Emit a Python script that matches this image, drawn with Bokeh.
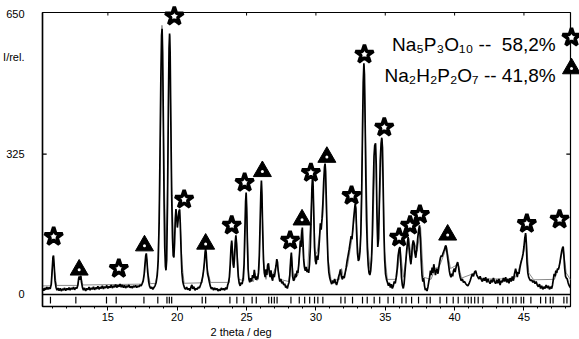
from bokeh.plotting import figure
from bokeh.models import Range1d, FixedTicker, Span, Label, Title
from bokeh.embed import file_html
from bokeh.resources import INLINE

# ---------------- data ----------------
obs_2theta = [10.30, 10.38, 10.45, 10.52, 10.60, 10.68, 10.76, 10.84, 10.92, 10.98, 11.04, 11.08, 11.13, 11.19, 11.26,
              11.33, 11.40, 11.48, 11.56, 11.64, 11.72, 11.80, 11.88, 11.96, 12.04, 12.12, 12.20, 12.28, 12.36, 12.44,
              12.52, 12.60, 12.68, 12.76, 12.84, 12.89, 12.93, 12.97, 13.01, 13.05, 13.10, 13.17, 13.24, 13.32, 13.40,
              13.48, 13.56, 13.64, 13.72, 13.80, 13.88, 13.96, 14.04, 14.12, 14.20, 14.28, 14.36, 14.44, 14.52, 14.60,
              14.68, 14.76, 14.84, 14.92, 15.00, 15.08, 15.16, 15.24, 15.32, 15.40, 15.48, 15.56, 15.64, 15.72, 15.80,
              15.88, 15.96, 16.04, 16.12, 16.20, 16.28, 16.36, 16.44, 16.52, 16.60, 16.68, 16.76, 16.84, 16.92, 17.00,
              17.08, 17.16, 17.24, 17.32, 17.40, 17.48, 17.55, 17.62, 17.68, 17.73, 17.77, 17.81, 17.87, 17.94, 18.00,
              18.08, 18.16, 18.24, 18.32, 18.40, 18.48, 18.56, 18.63, 18.70, 18.76, 18.82, 18.87, 18.91, 18.95, 19.00,
              19.05, 19.10, 19.15, 19.19, 19.24, 19.30, 19.36, 19.41, 19.45, 19.49, 19.54, 19.60, 19.66, 19.71, 19.76,
              19.81, 19.86, 19.91, 19.96, 20.01, 20.06, 20.12, 20.17, 20.22, 20.28, 20.34, 20.40, 20.46, 20.53, 20.60,
              20.68, 20.76, 20.84, 20.92, 21.00, 21.06, 21.12, 21.20, 21.28, 21.36, 21.44, 21.52, 21.60, 21.68, 21.76,
              21.84, 21.90, 21.96, 22.01, 22.05, 22.09, 22.14, 22.19, 22.25, 22.31, 22.38, 22.46, 22.54, 22.62, 22.70,
              22.78, 22.86, 22.94, 23.02, 23.10, 23.18, 23.26, 23.34, 23.42, 23.50, 23.58, 23.64, 23.70, 23.76, 23.82,
              23.88, 23.93, 23.98, 24.03, 24.08, 24.13, 24.18, 24.23, 24.28, 24.34, 24.40, 24.47, 24.54, 24.61, 24.68,
              24.75, 24.82, 24.88, 24.93, 24.97, 25.01, 25.06, 25.11, 25.17, 25.23, 25.30, 25.36, 25.43, 25.50, 25.56,
              25.62, 25.68, 25.74, 25.80, 25.86, 25.92, 25.98, 26.03, 26.07, 26.11, 26.16, 26.22, 26.28, 26.34, 26.40,
              26.46, 26.52, 26.58, 26.64, 26.70, 26.76, 26.82, 26.88, 26.94, 27.00, 27.06, 27.12, 27.18, 27.23, 27.28,
              27.34, 27.40, 27.47, 27.54, 27.61, 27.68, 27.75, 27.82, 27.88, 27.94, 28.00, 28.06, 28.12, 28.18, 28.23,
              28.27, 28.32, 28.38, 28.45, 28.52, 28.58, 28.64, 28.70, 28.76, 28.82, 28.88, 28.93, 28.98, 29.02, 29.07,
              29.12, 29.18, 29.24, 29.30, 29.36, 29.42, 29.48, 29.54, 29.60, 29.66, 29.71, 29.76, 29.80, 29.85, 29.90,
              29.96, 30.02, 30.08, 30.14, 30.20, 30.26, 30.32, 30.38, 30.44, 30.50, 30.56, 30.62, 30.66, 30.70, 30.75,
              30.81, 30.87, 30.93, 31.00, 31.07, 31.14, 31.21, 31.28, 31.35, 31.42, 31.49, 31.56, 31.63, 31.70, 31.77,
              31.83, 31.90, 31.97, 32.04, 32.11, 32.18, 32.25, 32.32, 32.40, 32.47, 32.54, 32.60, 32.66, 32.72, 32.78,
              32.83, 32.88, 32.94, 33.00, 33.06, 33.12, 33.18, 33.24, 33.30, 33.36, 33.41, 33.46, 33.50, 33.55, 33.60,
              33.65, 33.71, 33.77, 33.83, 33.89, 33.95, 34.01, 34.07, 34.13, 34.19, 34.24, 34.30, 34.35, 34.40, 34.46,
              34.52, 34.58, 34.64, 34.70, 34.75, 34.80, 34.85, 34.90, 34.96, 35.02, 35.09, 35.16, 35.23, 35.30, 35.37,
              35.44, 35.51, 35.58, 35.65, 35.72, 35.79, 35.86, 35.93, 36.00, 36.06, 36.11, 36.17, 36.23, 36.30, 36.36,
              36.42, 36.48, 36.54, 36.60, 36.65, 36.70, 36.75, 36.80, 36.85, 36.90, 36.96, 37.02, 37.08, 37.14, 37.20,
              37.27, 37.34, 37.41, 37.47, 37.53, 37.59, 37.65, 37.71, 37.77, 37.83, 37.89, 37.95, 38.01, 38.08, 38.14,
              38.20, 38.26, 38.32, 38.38, 38.44, 38.50, 38.56, 38.62, 38.68, 38.74, 38.80, 38.86, 38.92, 38.98, 39.04,
              39.10, 39.16, 39.22, 39.28, 39.33, 39.38, 39.44, 39.50, 39.56, 39.62, 39.68, 39.74, 39.80, 39.86, 39.92,
              39.98, 40.04, 40.10, 40.16, 40.22, 40.28, 40.34, 40.40, 40.48, 40.56, 40.64, 40.72, 40.80, 40.88, 40.96,
              41.04, 41.12, 41.20, 41.28, 41.36, 41.44, 41.52, 41.60, 41.68, 41.76, 41.84, 41.92, 42.00, 42.08, 42.16,
              42.24, 42.32, 42.40, 42.48, 42.56, 42.64, 42.72, 42.80, 42.88, 42.96, 43.04, 43.12, 43.20, 43.28, 43.36,
              43.44, 43.52, 43.60, 43.68, 43.76, 43.84, 43.92, 44.00, 44.08, 44.16, 44.24, 44.32, 44.40, 44.46, 44.52,
              44.58, 44.64, 44.70, 44.76, 44.82, 44.88, 44.94, 45.00, 45.06, 45.12, 45.17, 45.22, 45.28, 45.34, 45.40,
              45.48, 45.56, 45.64, 45.72, 45.80, 45.88, 45.96, 46.04, 46.12, 46.20, 46.28, 46.36, 46.44, 46.52, 46.60,
              46.68, 46.76, 46.84, 46.92, 47.00, 47.06, 47.12, 47.18, 47.24, 47.30, 47.36, 47.42, 47.48, 47.54, 47.60,
              47.66, 47.72, 47.78, 47.83, 47.88, 47.94, 48.00, 48.06, 48.12, 48.18, 48.24, 48.30, 48.36]
obs_int = [14, 9, 15, 11, 17, 12, 16, 13, 24, 55, 86, 90, 66, 32, 17,
           10, 15, 9, 14, 8, 13, 10, 15, 9, 14, 11, 16, 10, 15, 12,
           17, 11, 16, 14, 22, 36, 42, 34, 40, 43, 28, 16, 10, 15, 8,
           14, 11, 17, 10, 15, 12, 18, 11, 16, 13, 19, 12, 17, 14, 20,
           13, 18, 15, 21, 14, 19, 16, 22, 15, 20, 17, 23, 16, 21, 18,
           24, 17, 22, 16, 21, 15, 20, 17, 22, 16, 19, 15, 20, 17, 21,
           16, 20, 18, 22, 20, 26, 32, 48, 72, 90, 95, 82, 52, 30, 20,
           14, 17, 12, 16, 20, 28, 45, 80, 170, 330, 500, 600, 615, 560, 400,
           220, 110, 65, 56, 80, 210, 430, 570, 604, 560, 400, 230, 130, 90, 86,
           120, 175, 198, 180, 155, 170, 192, 197, 165, 100, 50, 30, 22, 15, 12,
           17, 11, 14, 9, 18, 22, 13, 18, 10, 14, 12, 17, 15, 22, 30,
           42, 55, 75, 98, 106, 96, 66, 48, 40, 30, 20, 13, 16, 10, 15,
           11, 14, 8, 12, 9, 15, 11, 14, 10, 16, 12, 22, 28, 40, 70,
           110, 125, 100, 70, 62, 85, 120, 137, 118, 75, 42, 26, 20, 28, 24,
           36, 70, 150, 215, 236, 200, 120, 60, 35, 28, 38, 30, 45, 38, 57,
           40, 34, 42, 35, 50, 90, 170, 235, 264, 230, 150, 80, 50, 40, 58,
           45, 68, 72, 50, 40, 56, 38, 32, 48, 40, 52, 66, 82, 75, 55,
           40, 30, 36, 26, 30, 22, 25, 16, 20, 14, 22, 28, 45, 80, 97,
           75, 42, 32, 35, 48, 40, 55, 50, 68, 95, 125, 110, 140, 155, 120,
           80, 62, 55, 64, 52, 58, 50, 70, 110, 180, 245, 275, 250, 180, 110,
           78, 70, 90, 80, 100, 130, 165, 150, 175, 210, 260, 295, 303, 285, 220,
           140, 80, 52, 38, 30, 24, 32, 26, 36, 28, 22, 30, 40, 48, 58,
           45, 35, 42, 38, 50, 62, 78, 90, 105, 120, 135, 128, 150, 175, 195,
           210, 200, 140, 95, 78, 82, 100, 140, 230, 380, 490, 535, 510, 400, 270,
           170, 105, 68, 50, 45, 55, 80, 140, 240, 320, 345, 350, 300, 190, 110,
           130, 220, 310, 350, 363, 340, 250, 150, 80, 48, 35, 28, 20, 27, 16,
           24, 14, 20, 30, 26, 40, 60, 90, 105, 110, 80, 40, 22, 14, 25,
           50, 75, 100, 120, 133, 115, 95, 80, 70, 90, 115, 125, 118, 95, 85,
           105, 130, 150, 160, 130, 80, 45, 30, 38, 20, 10, 14, 8, 18, 30,
           40, 55, 45, 62, 50, 70, 58, 45, 55, 60, 48, 62, 75, 85, 90,
           88, 95, 100, 105, 112, 113, 100, 85, 70, 55, 45, 40, 48, 42, 55,
           60, 52, 62, 70, 75, 65, 50, 40, 32, 36, 28, 30, 25, 22, 20,
           25, 32, 40, 48, 42, 52, 55, 45, 40, 36, 42, 35, 30, 38, 32,
           40, 28, 36, 30, 25, 34, 28, 38, 30, 25, 34, 26, 36, 22, 32,
           28, 38, 30, 40, 28, 36, 26, 38, 30, 42, 32, 48, 60, 50, 40,
           52, 48, 60, 70, 78, 85, 95, 110, 130, 142, 120, 75, 50, 40, 36,
           32, 34, 28, 32, 25, 30, 22, 18, 24, 14, 20, 12, 18, 14, 22,
           15, 20, 12, 18, 14, 22, 35, 48, 42, 55, 50, 60, 58, 65, 75,
           88, 100, 108, 111, 90, 60, 42, 38, 36, 28, 22, 18, 16]

calc_2theta = [10.30, 10.90, 11.00, 11.07, 11.15, 11.30, 12.80, 12.95, 13.05, 13.20, 17.50, 17.65, 17.76, 17.90,
               18.05, 18.45, 18.60, 18.75, 18.90, 19.05, 19.18, 19.30, 19.46, 19.60, 19.75, 19.92, 20.05, 20.18,
               20.35, 20.50, 21.80, 21.95, 22.06, 22.20, 22.40, 23.75, 23.95, 24.08, 24.26, 24.45, 24.80, 24.98,
               25.15, 25.50, 25.60, 25.75, 25.90, 26.08, 26.25, 26.40, 26.60, 26.80, 27.20, 27.40, 28.05, 28.23,
               28.40, 28.70, 28.95, 29.15, 29.40, 29.78, 29.95, 30.10, 30.35, 30.50, 30.66, 30.85, 31.10, 31.70,
               31.85, 32.00, 32.30, 32.60, 32.86, 33.05, 33.20, 33.48, 33.62, 33.75, 33.90, 34.05, 34.30, 34.45,
               34.55, 34.78, 34.95, 35.15, 35.80, 36.09, 36.30, 36.70, 36.90, 37.10, 37.30, 37.55, 37.75, 38.30,
               38.60, 38.90, 39.20, 39.43, 39.70, 40.26, 40.50, 41.50, 41.80, 44.30, 44.60, 45.00, 45.14, 45.35,
               45.70, 47.20, 47.50, 47.83, 48.05, 48.36]
calc_int = [20, 20, 60, 88, 55, 21, 21, 40, 42, 22, 24, 50, 92, 50,
            25, 26, 60, 250, 623, 300, 90, 250, 600, 250, 110, 190, 170, 195,
            70, 26, 27, 70, 100, 55, 28, 28, 120, 70, 130, 35, 32, 230,
            40, 30, 50, 32, 60, 260, 60, 35, 65, 40, 70, 35, 30, 95,
            35, 45, 150, 65, 55, 270, 90, 100, 160, 180, 300, 90, 32, 35,
            60, 38, 70, 130, 205, 90, 110, 530, 300, 110, 60, 100, 345, 120,
            180, 360, 100, 35, 35, 105, 40, 130, 80, 120, 100, 155, 40, 35,
            60, 65, 90, 110, 60, 70, 38, 50, 36, 36, 55, 100, 138, 50,
            34, 35, 60, 108, 50, 34]

bragg_2theta = [10.86, 12.69, 14.90, 15.60, 17.60, 18.60, 19.26, 19.43, 19.60, 21.80, 22.05, 23.80, 24.30, 24.80,
                25.40, 25.70, 26.60, 26.80, 27.00, 27.20, 28.20, 28.80, 29.19, 29.55, 29.90, 30.14, 30.50, 31.80,
                32.10, 32.64, 33.36, 33.70, 34.20, 34.60, 35.20, 35.60, 36.20, 36.50, 36.90, 37.40, 38.00, 38.24,
                38.95, 39.43, 39.90, 40.26, 40.74, 40.98, 41.20, 41.45, 41.70, 42.05, 43.12, 43.48, 43.83, 44.20,
                44.43, 44.80, 44.98, 45.50, 46.20, 46.57, 46.90, 47.10, 47.88, 48.10]

star_2theta = [11.09, 15.79, 19.79, 20.50, 23.93, 24.86, 28.14, 29.64, 32.57, 33.50, 34.93, 36.00, 36.79, 37.50, 45.21, 47.57]
star_int = [134, 60, 644, 220, 160, 259, 125, 282, 229, 556, 387, 132, 160, 185, 164, 174]

tri_2theta = [12.93, 17.64, 22.05, 26.14, 29.00, 30.79, 39.50]
tri_int = [57, 113, 117, 285, 173, 318, 138]

x_major_ticks = [15, 20, 25, 30, 35, 40, 45]
y_major_ticks = [0, 325, 650]
y_inner_ticks = [325]
phase_labels = ["Na\u2085P\u2083O\u2081\u2080 --\u00a0 58,2%", "Na\u2082H\u2082P\u2082O\u2087 -- 41,8%"]
x_title = "2 theta / deg"
y_title = "I/rel."
y_title_pos = 549

# ---------------- figure ----------------
FONT = "Liberation Sans"
X0, X1 = 10.286, 48.357
Y0, Y1 = -27.8, 652.8
p = figure(width=579, height=339, output_backend="svg", toolbar_location=None,
           x_range=Range1d(X0, X1), y_range=Range1d(Y0, Y1),
           min_border_left=37, min_border_right=9, min_border_top=12, min_border_bottom=33)
p.outline_line_color = "black"
p.outline_line_width = 1.2
p.xgrid.visible = False
p.ygrid.visible = False
p.background_fill_color = "white"
p.border_fill_color = "white"

xa = p.xaxis[0]
xa.ticker = FixedTicker(ticks=x_major_ticks, minor_ticks=list(range(11, 49)))
xa.major_tick_in = 0
xa.major_tick_out = 4
xa.minor_tick_in = 0
xa.minor_tick_out = 2
xa.major_label_standoff = 2
xa.major_label_text_font = FONT
xa.major_label_text_font_size = "11px"
xa.major_label_text_color = "black"
xa.axis_line_color = "black"
xa.axis_line_width = 1.5

ya = p.yaxis[0]
ya.ticker = FixedTicker(ticks=y_major_ticks + [y_title_pos])
ya.major_label_overrides = {y_title_pos: y_title}
ya.major_tick_line_color = None
ya.minor_tick_line_color = None
ya.major_label_standoff = 12
ya.major_label_text_font = FONT
ya.major_label_text_font_size = "11px"
ya.major_label_text_color = "black"
ya.axis_line_color = "black"
ya.axis_line_width = 1.5

p.add_layout(Title(text=x_title, align="left", offset=168, standoff=0,
                   text_font=FONT, text_font_size="11px", text_font_style="normal",
                   text_color="black"), "below")

# inward frame ticks (top at the x ticks, left/right at 325)
p.segment(x0=x_major_ticks, y0=[Y1] * len(x_major_ticks), x1=x_major_ticks, y1=[Y1 - 7] * len(x_major_ticks),
          line_color="black", line_width=1)
p.segment(x0=[X0] * len(y_inner_ticks), y0=y_inner_ticks, x1=[X0 + 0.3] * len(y_inner_ticks), y1=y_inner_ticks,
          line_color="black", line_width=1.2)
p.segment(x0=[X1] * len(y_inner_ticks), y0=y_inner_ticks, x1=[X1 - 0.3] * len(y_inner_ticks), y1=y_inner_ticks,
          line_color="black", line_width=1.2)

# zero line / top of reflection-marker strip
p.add_layout(Span(location=0, dimension="width", line_color="black", line_width=1.5))

# Bragg reflection markers
p.segment(x0=bragg_2theta, y0=[-5] * len(bragg_2theta), x1=bragg_2theta, y1=[-21] * len(bragg_2theta),
          line_color="black", line_width=1.2)

# calculated and observed patterns
p.line(calc_2theta, calc_int, line_color="#8a8a8a", line_width=1)
p.line(obs_2theta, obs_int, line_color="black", line_width=1.7)

# phase markers
stars = p.scatter(star_2theta, star_int, marker="star", size=19, fill_color="white",
                  line_color="black", line_width=3.5)
stars.level = "overlay"
tris = p.scatter(tri_2theta, tri_int, marker="triangle", size=18, fill_color="black",
                 line_color="black", line_width=1)
tris.level = "overlay"
dots = p.scatter(tri_2theta, tri_int, marker="circle", size=3, fill_color="white", line_color=None)
dots.level = "overlay"

# legend (phase and fraction)
for i, txt in enumerate(phase_labels):
    yb = [578.7, 507.0][i]
    p.add_layout(Label(x=47.29, y=yb, text=txt, text_align="right", text_baseline="alphabetic",
                       text_font=FONT, text_font_size="19px", text_color="black"))
ls = p.scatter([48.43], [595], marker="star", size=19, fill_color="white", line_color="black", line_width=3.5)
ls.level = "overlay"
lt = p.scatter([48.43], [523], marker="triangle", size=18, fill_color="black", line_color="black")
lt.level = "overlay"
ld = p.scatter([48.43], [523], marker="circle", size=3, fill_color="white", line_color=None)
ld.level = "overlay"

open("out.html", "w").write(file_html(p, INLINE))
